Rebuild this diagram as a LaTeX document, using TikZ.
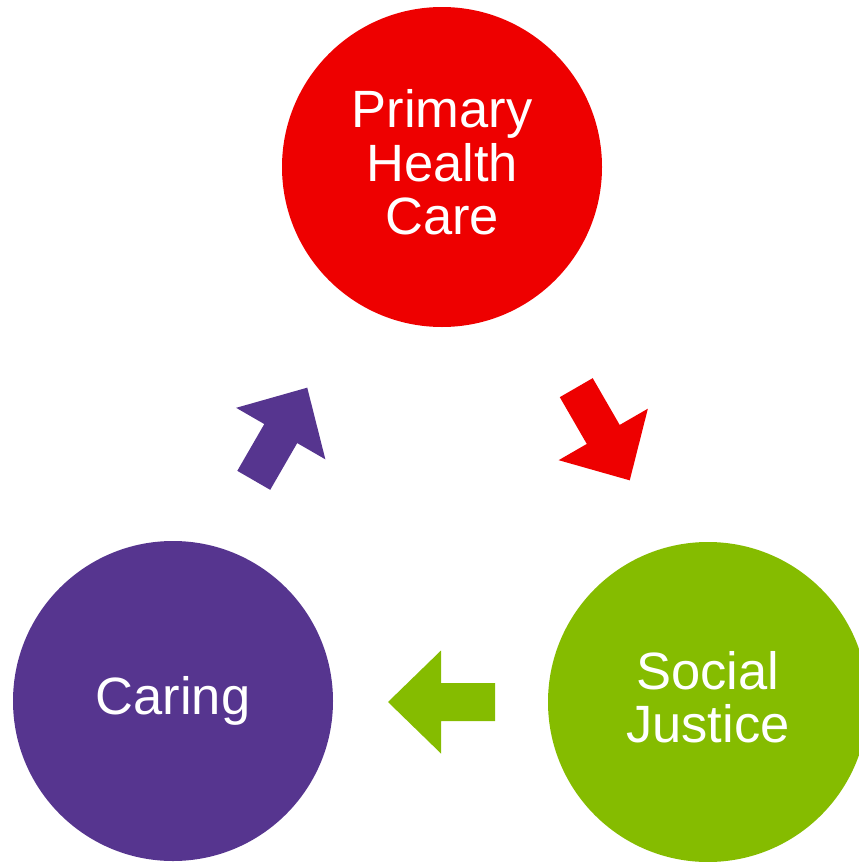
\documentclass[tikz,border=0pt]{standalone}
\usepackage{fontspec}
\setmainfont{Liberation Sans}
\begin{document}
\begin{tikzpicture}[x=1pt,y=-1pt,
  stage/.style={circle, minimum size=320pt, inner sep=0pt, text=white,
    align=center, font=\fontsize{52.5}{53.5}\selectfont},
  blockarrow/.pic={
    \fill (-53.5,-19) -- (0.5,-19) -- (0.5,-51.5) -- (53.5,0)
      -- (0.5,51.5) -- (0.5,19) -- (-53.5,19) -- cycle;}]
  \definecolor{phcred}{RGB}{238,0,0}
  \definecolor{sjgreen}{RGB}{133,188,0}
  \definecolor{carepurple}{RGB}{86,53,143}
  \useasboundingbox (0,0) rectangle (859,862);

  % the three stages of the cycle
  \node[stage, fill=phcred, text depth=10pt] (phc) at (442,167) {Primary\\Health\\Care};
  \node[stage, fill=sjgreen, text depth=10pt] (sj) at (708,702) {Social\\Justice};
  \node[stage, fill=carepurple] (care) at (173,701) {Caring};

  % block arrows running clockwise between the stages
  \pic[fill=phcred, rotate=-60] (phc-sj) at (603,434) {blockarrow};
  \pic[fill=sjgreen, rotate=180] (sj-care) at (441.5,702) {blockarrow};
  \pic[fill=carepurple, rotate=60] (care-phc) at (280.5,434) {blockarrow};
\end{tikzpicture}
\end{document}
